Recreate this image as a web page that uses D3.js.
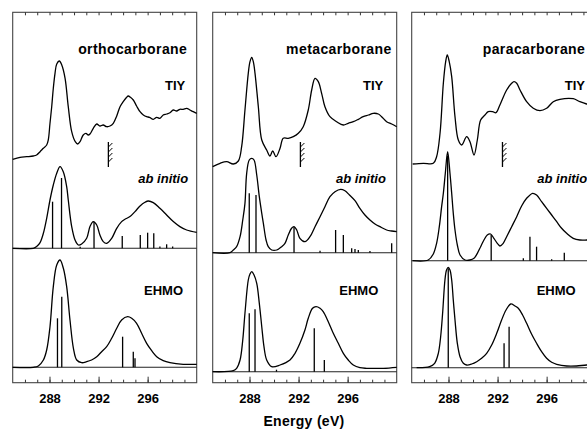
<!DOCTYPE html>
<html>
<head>
<meta charset="utf-8">
<script src="https://cdn.jsdelivr.net/npm/d3@7"></script>
<style>
  body { margin: 0; background: #fff; }
  svg text { font-family: "Liberation Sans", Arial, sans-serif; font-weight: bold; fill: #000; }
</style>
</head>
<body>
<svg id="chart" width="587" height="429"></svg>
<script>
// --- data: [energy (eV), intensity (arb.)] ---
const molecules = ["orthocarborane", "metacarborane", "paracarborane"];
const rowLabels = ["TIY", "ab initio", "EHMO"];
const majorTicks = [288, 292, 296];
const minorTicks = d3.range(286, 300);
const ionizationEnergy = [292.8, 292.15, 292.4];

const orthoTIY = [[285.0,10.7],[285.6,12.7],[286.14,13.3],[286.68,14],[286.95,15],[287.23,18.3],[287.5,21.7],[287.77,25],[287.9,30],[288.04,46.7],[288.18,63.3],[288.31,81.7],[288.45,96.7],[288.59,106],[288.8,109],[289.0,105],[289.27,91.7],[289.53,63.3],[289.81,38.3],[290.1,28.3],[290.3,26],[290.49,28.3],[290.75,35],[290.97,36.7],[291.16,35],[291.3,36],[291.57,41.7],[291.85,46],[292.11,44],[292.38,45],[292.66,43.3],[292.93,44],[293.2,46.7],[293.48,54],[293.75,63.3],[294.01,68.3],[294.29,72.7],[294.42,74],[294.6,72.7],[294.83,70],[295.1,64],[295.38,58.3],[295.65,55],[295.92,53.3],[296.15,52.7],[296.46,50.7],[296.74,52.7],[297.0,51.7],[297.27,55],[297.55,56],[297.82,57.3],[298.09,60],[298.36,59],[298.63,60.7],[298.9,60.7],[299.18,61.7],[299.45,60],[299.72,58.3],[300.0,56.7]];
const orthoAbInitio = [[285.0,0],[286.68,0],[286.95,1.7],[287.23,5.7],[287.5,15],[287.77,30],[288.04,48.3],[288.31,63.3],[288.59,75],[288.86,81.6],[289.13,76.3],[289.4,61.6],[289.53,48.3],[289.81,21.7],[290.1,7.7],[290.35,3.3],[290.62,4.3],[291.03,10],[291.3,21.7],[291.57,26.7],[291.85,23.3],[292.11,13.3],[292.38,6.7],[292.66,5],[293.07,10],[293.48,20],[293.88,26.7],[294.15,29],[294.56,31.7],[294.97,36.7],[295.38,42.3],[295.78,46],[296.05,47.3],[296.46,45.7],[297.0,40],[297.55,33.3],[298.09,26.7],[298.63,21.7],[299.18,18.3],[300.0,16]];
const orthoAbInitioSticks = [[288.25,46.6],[288.98,70.3],[290.5,1.5],[291.63,26.6],[293.93,12.3],[295.4,13.3],[296.0,15.6],[296.5,15],[297.0,1.7],[297.55,4],[298.04,1.7]];
const orthoEHMO = [[285.0,0],[286.68,0],[287.09,1.3],[287.5,7.3],[287.77,17.3],[288.04,40.6],[288.31,80.6],[288.59,102.3],[288.86,107.3],[289.13,99],[289.4,80.6],[289.67,47.3],[289.95,19],[290.22,7.3],[290.62,4.6],[291.03,5.6],[291.43,7.3],[291.85,10.6],[292.25,15.6],[292.66,20.6],[293.07,29],[293.48,39],[293.88,47.3],[294.37,50.6],[294.7,49],[295.1,44],[295.51,34],[295.92,24],[296.33,16.6],[296.74,10.6],[297.27,6.6],[297.82,4.6],[298.9,3],[300.0,3]];
const orthoEHMOSticks = [[288.65,49],[289.0,70.6],[293.96,30.6],[294.83,15.6],[294.97,9]];

const metaTIY = [[285.0,3.3],[285.6,6.7],[286.14,8.3],[286.68,6],[287.09,9],[287.36,23.3],[287.63,60],[287.9,96.7],[288.04,108.3],[288.18,112.7],[288.31,108.3],[288.45,96.7],[288.72,63.3],[289.0,30],[289.4,20],[289.67,14],[289.89,19],[290.16,13.3],[290.49,21.7],[290.75,31.7],[291.16,31.7],[291.57,33.3],[291.98,36.7],[292.38,43.3],[292.79,60],[293.07,80],[293.34,91.7],[293.61,88.3],[293.88,76.7],[294.15,63.3],[294.56,53.3],[295.1,48.3],[295.65,45],[296.05,46.7],[296.46,48.3],[296.87,50.7],[297.27,53.3],[297.7,55],[298.09,56.7],[298.5,56],[298.77,53.3],[299.18,48.3],[299.59,46],[300.0,43.3]];
const metaAbInitio = [[285.0,0],[286.41,0],[286.68,2.7],[286.95,6],[287.23,16],[287.45,32.7],[287.63,49.3],[287.77,79.4],[287.98,92.7],[288.18,94.4],[288.37,92.7],[288.59,77.7],[288.8,56],[289.0,39.4],[289.13,29.4],[289.35,12.7],[289.53,6],[289.81,2.7],[290.22,2.7],[290.62,6],[290.89,9.4],[291.16,17.7],[291.43,24.4],[291.63,26],[291.85,22.7],[292.11,14.4],[292.52,11],[292.93,16],[293.34,26],[293.75,36],[294.15,46],[294.56,56],[294.97,61],[295.43,63.4],[295.78,62],[296.15,57.7],[296.6,52],[297.0,44.4],[297.41,37.7],[297.82,32.7],[298.23,28.7],[298.63,26],[299.18,22.7],[299.59,21.7],[300.0,21]];
const metaAbInitioSticks = [[287.98,59.4],[288.53,57.7],[291.63,26],[293.75,2],[295.02,22.7],[295.65,17.7],[296.33,4.4],[296.6,3.7],[296.87,2.7],[297.82,1.7],[299.59,9.4]];
const metaEHMO = [[285.0,0],[286.68,1],[286.95,3.4],[287.23,11.7],[287.45,31.7],[287.63,58.4],[287.9,91.7],[288.04,97.7],[288.18,100],[288.37,96.7],[288.59,88.4],[288.8,68.4],[289.0,45],[289.18,25],[289.4,11.7],[289.81,5],[290.49,6.7],[291.3,11.7],[291.71,18.4],[292.11,28.4],[292.52,41.7],[292.79,53.4],[293.14,63.4],[293.42,65],[293.75,63.4],[294.01,60],[294.42,50],[294.83,38.4],[295.24,28.4],[295.65,18.4],[296.05,11.7],[296.46,6.7],[297.0,4],[297.55,3.4],[298.9,3.4],[300.0,4.4]];
const metaEHMOSticks = [[287.98,58.4],[288.45,62.4],[290.2,2],[293.28,43.4],[294.1,11.7]];

const paraTIY = [[285.08,6],[285.95,6.7],[286.76,6.7],[287.03,13.3],[287.31,36.7],[287.58,86.7],[287.77,108.3],[287.9,115],[288.06,108.3],[288.26,93.3],[288.53,53.3],[288.8,30],[289.08,25],[289.48,33.3],[289.75,28.3],[290.08,15],[290.35,30],[290.62,50],[290.97,55],[291.24,58.3],[291.6,58.3],[291.87,57.3],[292.19,65],[292.74,80],[293.15,86.7],[293.34,88.3],[293.56,86.7],[293.83,80],[294.37,68.3],[294.91,61.7],[295.46,59.3],[296.0,61.7],[296.54,68.3],[297.08,70.7],[298.17,71.3],[298.71,68.3],[299.26,66],[300.08,64]];
const paraAbInitio = [[285.08,0],[286.35,0.7],[286.76,6.7],[287.03,17.4],[287.25,34],[287.44,54],[287.58,67.4],[287.74,87.4],[287.93,109],[288.12,87.4],[288.26,67.4],[288.39,47.4],[288.53,30.7],[288.72,15.7],[288.94,5.7],[289.35,0.7],[289.75,0.7],[290.08,2.4],[290.35,7.4],[290.62,14],[290.89,20.7],[291.16,25.7],[291.43,26.7],[291.7,22.4],[291.98,17.4],[292.19,14.7],[292.46,17.4],[292.74,24],[293.15,34],[293.56,44],[293.96,54.7],[294.37,62.4],[294.86,67.4],[295.18,65.7],[295.59,59],[296.0,52.4],[296.41,45.7],[296.82,39],[297.22,32.4],[297.63,27.4],[298.17,22.4],[298.71,20.7],[299.26,20.7],[300.08,21.4]];
const paraAbInitioSticks = [[287.93,105],[291.48,25.7],[294.1,2.4],[294.64,24],[295.18,14],[296.41,1.4],[297.44,8]];
const paraEHMO = [[285.4,0],[286.46,1],[286.87,4.4],[287.17,14.4],[287.36,31],[287.52,54.4],[287.71,87.7],[287.84,97.7],[287.98,100.4],[288.12,97.7],[288.26,87.7],[288.39,67.7],[288.53,47.7],[288.72,24.4],[288.94,11],[289.21,4.4],[289.48,2.7],[289.89,3.7],[290.3,6],[290.7,9.4],[291.11,14.4],[291.52,22.7],[291.93,34.4],[292.33,47.7],[292.69,57.7],[293.07,63.7],[293.42,61.7],[293.69,59.4],[294.04,52.7],[294.37,44.4],[294.77,33.7],[295.18,24.4],[295.59,16],[296.0,9.4],[296.41,5.4],[296.82,3.4],[297.63,1.7],[298.44,1.7],[299.26,2.7],[300.08,2.7]];
const paraEHMOSticks = [[287.98,99.4],[292.53,24.4],[292.94,41]];

// --- layout ---
const svg = d3.select("#chart");
const panelLeft = [12.7, 212.7, 411.7];
const panelW = 184;
const frameTop = 12.3, frameBottom = 382.7;
const tiyBase = 170;
const abBase = [248.3, 252.7, 260.7];
const ehmoBase = [367.3, 371.7, 367.7];
const titleEnd = [174.5, 179, 173.5];
const tiyEnd = [172.6, 170.6, 173.3];
const abStart = [125.6, 123.3, 125.6];
const ehStart = [131.3, 126.6, 125];

const panels = [
  { tiy: orthoTIY, ab: orthoAbInitio, abSticks: orthoAbInitioSticks, eh: orthoEHMO, ehSticks: orthoEHMOSticks },
  { tiy: metaTIY, ab: metaAbInitio, abSticks: metaAbInitioSticks, eh: metaEHMO, ehSticks: metaEHMOSticks },
  { tiy: paraTIY, ab: paraAbInitio, abSticks: paraAbInitioSticks, eh: paraEHMO, ehSticks: paraEHMOSticks }
];

panels.forEach((p, i) => {
  const g = svg.append("g").attr("transform", "translate(" + panelLeft[i] + ",0)");
  const x = d3.scaleLinear().domain([285, 300]).range([0, panelW]);

  // one intensity scale per row, baseline at the row's line
  const yTiy = d3.scaleLinear().domain([0, 100]).range([tiyBase, tiyBase - 100]);
  const yAb = d3.scaleLinear().domain([0, 100]).range([abBase[i], abBase[i] - 100]);
  const yEh = d3.scaleLinear().domain([0, 100]).range([ehmoBase[i], ehmoBase[i] - 100]);

  // frame and row baselines
  g.append("rect")
    .attr("x", 0).attr("y", frameTop)
    .attr("width", panelW).attr("height", frameBottom - frameTop)
    .attr("fill", "none").attr("stroke", "#444").attr("stroke-width", 1.1);
  [abBase[i], ehmoBase[i]].forEach(b => {
    g.append("line").attr("x1", 0).attr("x2", panelW).attr("y1", b).attr("y2", b)
      .attr("stroke", "#222").attr("stroke-width", 1.1);
  });

  // ticks
  g.append("g").attr("transform", "translate(0," + frameBottom + ")")
    .call(d3.axisBottom(x).tickValues(minorTicks).tickSize(-3).tickFormat(""))
    .call(a => a.select(".domain").remove());
  g.append("g").attr("transform", "translate(0," + frameBottom + ")")
    .call(d3.axisBottom(x).tickValues(majorTicks).tickSize(-6).tickPadding(11).tickFormat(d3.format("d")))
    .call(a => a.select(".domain").remove())
    .call(a => a.selectAll("text").attr("font-size", 13).attr("font-family", null));
  g.append("g").attr("transform", "translate(0," + frameTop + ")")
    .call(d3.axisTop(x).tickValues(minorTicks).tickSize(-3).tickFormat(""))
    .call(a => a.select(".domain").remove());
  g.selectAll(".tick line").attr("stroke", "#333");

  const curve = d3.curveCatmullRom.alpha(0.5);
  const drawLine = (data, y) => g.append("path")
    .datum(data)
    .attr("fill", "none").attr("stroke", "#000").attr("stroke-width", 1.3)
    .attr("stroke-linejoin", "round")
    .attr("d", d3.line().x(d => x(d[0])).y(d => y(d[1])).curve(curve));
  const drawSticks = (data, y) => g.append("g").selectAll("line")
    .data(data).join("line")
    .attr("x1", d => x(d[0])).attr("x2", d => x(d[0]))
    .attr("y1", y(0)).attr("y2", d => y(d[1]))
    .attr("stroke", "#000").attr("stroke-width", 1.3);

  drawLine(p.tiy, yTiy);
  drawSticks(p.abSticks, yAb);
  drawLine(p.ab, yAb);
  drawSticks(p.ehSticks, yEh);
  drawLine(p.eh, yEh);

  // ionization threshold marker
  const ix = x(ionizationEnergy[i]);
  const mk = g.append("g").attr("stroke", "#000").attr("stroke-width", 1.3);
  mk.append("line").attr("x1", ix).attr("x2", ix).attr("y1", 142).attr("y2", 167);
  [147, 152, 157, 162].forEach(yy => {
    mk.append("line").attr("x1", ix).attr("x2", ix + 4).attr("y1", yy).attr("y2", yy - 4).attr("stroke-width", 1);
  });

  // labels
  g.append("text").attr("x", titleEnd[i]).attr("y", 54.3)
    .attr("text-anchor", "end").attr("font-size", 14).attr("letter-spacing", 0.4)
    .text(molecules[i]);
  g.append("text").attr("x", tiyEnd[i]).attr("y", 89.5)
    .attr("text-anchor", "end").attr("font-size", 13).text(rowLabels[0]);
  g.append("text").attr("x", abStart[i]).attr("y", 183)
    .attr("font-size", 13).attr("font-style", "italic").text(rowLabels[1]);
  g.append("text").attr("x", ehStart[i]).attr("y", 295)
    .attr("font-size", 13).text(rowLabels[2]);
});

svg.append("text").attr("x", 304).attr("y", 426)
  .attr("text-anchor", "middle").attr("font-size", 14).attr("letter-spacing", 0.3)
  .text("Energy (eV)");
</script>
</body>
</html>
